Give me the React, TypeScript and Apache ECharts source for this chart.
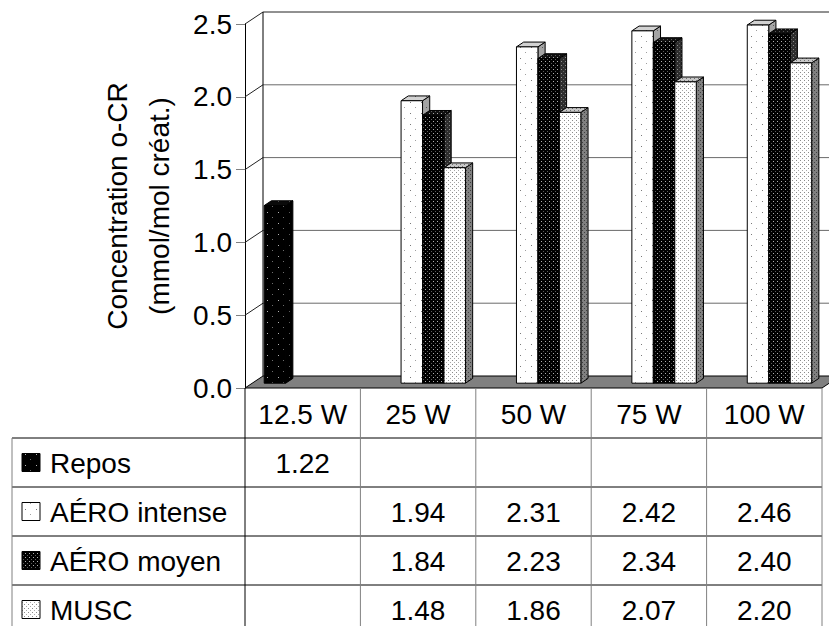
import { useEffect, useRef } from "react";
import * as echarts from "echarts";

// ---- data ----
const CATEGORIES = ["12.5 W", "25 W", "50 W", "75 W", "100 W"];
const SERIES_NAMES = ["Repos", "AÉRO intense", "AÉRO moyen", "MUSC"];
const REPOS = [1.22, null, null, null, null];
const AERO_INTENSE = [null, 1.94, 2.31, 2.42, 2.46];
const AERO_MOYEN = [null, 1.84, 2.23, 2.34, 2.4];
const MUSC = [null, 1.48, 1.86, 2.07, 2.2];
const Y_TICKS = [0, 0.5, 1.0, 1.5, 2.0, 2.5];
const AXIS_TITLE = "Concentration o-CR\n(mmol/mol créat.)";

// ---- layout & style ----
const FONT = '"Liberation Sans", Arial, Helvetica, sans-serif';
const FONT_SIZE = 28;
const GRID = { left: 245, top: 24, width: 577, height: 364 };
const DEPTH: [number, number] = [18, -12]; // offset from front plane to back wall
const BAR_FRONT = 0.4;
const BAR_BACK = 0.8;
const SLOT_START = 0.104; // fraction of category band before first bar
const SLOT_W = 0.186; // bar width as fraction of category band
const TABLE_LEFT = 12;
const HEADER_H = 50;
const ROW_H = 49;
const TABLE_ROWS_VISIBLE = 5;
const ICON_X = 22;
const ICON_SIZE = 18;
const LEGEND_TEXT_X = 50;

type Dot = [number, number, string];

function makeTile(size: number, bg: string, dots: Dot[]) {
  const c = document.createElement("canvas");
  c.width = size;
  c.height = size;
  const ctx = c.getContext("2d")!;
  ctx.fillStyle = bg;
  ctx.fillRect(0, 0, size, size);
  for (const [x, y, col] of dots) {
    ctx.fillStyle = col;
    ctx.fillRect(x, y, 1, 1);
  }
  return { image: c, repeat: "repeat", imageWidth: size, imageHeight: size } as any;
}

function makeFaces() {
  return [
    {
      front: makeTile(11, "#000000", [[3, 3, "#b4b4b4"], [8, 8, "#6e6e6e"]]),
      side: makeTile(11, "#000000", [[3, 3, "#5a5a5a"]]),
      top: makeTile(11, "#0a0a0a", [[3, 3, "#666666"]]),
    },
    {
      front: makeTile(11, "#ffffff", [[3, 3, "#7a7a7a"], [8, 8, "#a0a0a0"]]),
      side: makeTile(11, "#a4a4a4", [[3, 3, "#5a5a5a"], [8, 8, "#5a5a5a"]]),
      top: makeTile(11, "#d2d2d2", [[3, 3, "#6a6a6a"], [8, 8, "#6a6a6a"]]),
    },
    {
      front: makeTile(4, "#000000", [[1, 1, "#b0b0b0"], [3, 3, "#5a5a5a"]]),
      side: makeTile(4, "#2e2e2e", [[1, 1, "#909090"], [3, 3, "#606060"]]),
      top: makeTile(4, "#111111", [[1, 1, "#a8a8a8"], [3, 3, "#5a5a5a"]]),
    },
    {
      front: makeTile(4, "#ffffff", [[0, 0, "#8a8a8a"], [2, 2, "#a8a8a8"]]),
      side: makeTile(4, "#808080", [[0, 0, "#404040"], [2, 2, "#404040"]]),
      top: makeTile(4, "#c8c8c8", [[0, 0, "#6e6e6e"], [2, 2, "#6e6e6e"]]),
    },
  ];
}

const textStyle = {
  fontSize: FONT_SIZE,
  fontFamily: FONT,
  fill: "#000",
};

function toPoints(values: (number | null)[]) {
  const out: number[][] = [];
  values.forEach((v, i) => {
    if (v != null) out.push([i, v]);
  });
  return out;
}

export default function App() {
  const ref = useRef<HTMLDivElement>(null);

  useEffect(() => {
    if (!ref.current) return;
    const chart = echarts.init(ref.current, null, { renderer: "svg" });
    const faces = makeFaces();
    const seriesValues = [REPOS, AERO_INTENSE, AERO_MOYEN, MUSC];

    const [dx, dy] = DEPTH;

    // walls, floor and back-wall gridlines
    const frameRender = (params: any, api: any) => {
      const cs = params.coordSys;
      const L = cs.x;
      const R = cs.x + cs.width;
      const T = cs.y;
      const B = cs.y + cs.height;
      const children: any[] = [];
      children.push({
        type: "polygon",
        shape: { points: [[L, B], [R, B], [R + dx, B + dy], [L + dx, B + dy]] },
        style: { fill: "#808080", stroke: "#000", lineWidth: 1 },
      });
      Y_TICKS.forEach((t) => {
        if (t === 0) return;
        const y = api.coord([0, t])[1];
        const top = t === Y_TICKS[Y_TICKS.length - 1];
        children.push({
          type: "line",
          shape: { x1: L + dx, y1: y + dy, x2: R + dx + 40, y2: y + dy },
          style: { stroke: top ? "#222" : "#6a6a6a", lineWidth: 1 },
        });
        children.push({
          type: "line",
          shape: { x1: L, y1: y, x2: L + dx, y2: y + dy },
          style: { stroke: "#222", lineWidth: 1 },
        });
      });
      children.push({
        type: "line",
        shape: { x1: L + dx, y1: T + dy, x2: L + dx, y2: B + dy },
        style: { stroke: "#000", lineWidth: 1 },
      });
      return { type: "group", children };
    };

    // data table grid and legend column
    const tableRender = (params: any, api: any) => {
      const cs = params.coordSys;
      const L = cs.x;
      const R = cs.x + cs.width;
      const B = cs.y + cs.height;
      const bottom = B + HEADER_H + ROW_H * TABLE_ROWS_VISIBLE;
      const band = api.size([1, 0])[0];
      const children: any[] = [];
      for (let r = 0; r < SERIES_NAMES.length; r++) {
        const y = B + HEADER_H + ROW_H * r;
        children.push({
          type: "line",
          shape: { x1: TABLE_LEFT, y1: y, x2: R, y2: y },
          style: { stroke: "#000", lineWidth: 1 },
        });
        const cy = y + ROW_H / 2;
        children.push({
          type: "rect",
          shape: { x: ICON_X, y: cy - ICON_SIZE / 2, width: ICON_SIZE, height: ICON_SIZE },
          style: { fill: faces[r].front, stroke: "#000", lineWidth: 1 },
        });
        children.push({
          type: "text",
          x: LEGEND_TEXT_X,
          y: cy + 1,
          style: { ...textStyle, text: SERIES_NAMES[r], align: "left", verticalAlign: "middle" },
        });
      }
      CATEGORIES.forEach((_, k) => {
        if (k === 0) return;
        const x = api.coord([k, 0])[0] - band / 2;
        children.push({
          type: "line",
          shape: { x1: x, y1: B, x2: x, y2: bottom },
          style: { stroke: "#808080", lineWidth: 1 },
        });
      });
      children.push({
        type: "line",
        shape: { x1: R, y1: B, x2: R, y2: bottom },
        style: { stroke: "#808080", lineWidth: 1 },
      });
      children.push({
        type: "line",
        shape: { x1: TABLE_LEFT, y1: B + HEADER_H, x2: TABLE_LEFT, y2: bottom },
        style: { stroke: "#808080", lineWidth: 1 },
      });
      children.push({
        type: "line",
        shape: { x1: L, y1: B, x2: L, y2: bottom },
        style: { stroke: "#000", lineWidth: 1 },
      });
      return { type: "group", children };
    };

    // 3D column plus its value cell in the table
    const barRender = (slot: number) => (params: any, api: any) => {
      const i = api.value(0);
      const v = api.value(1);
      const [cx, yTop] = api.coord([i, v]);
      const yBot = api.coord([i, 0])[1];
      const band = api.size([1, 0])[0];
      const x0 = cx - band / 2 + band * (SLOT_START + slot * SLOT_W);
      const x1 = x0 + band * SLOT_W;
      const fx = dx * BAR_FRONT;
      const fy = dy * BAR_FRONT;
      const bx = dx * BAR_BACK;
      const by = dy * BAR_BACK;
      const f = faces[slot];
      const cs = params.coordSys;
      const rowY = cs.y + cs.height + HEADER_H + ROW_H * slot + ROW_H / 2;
      return {
        type: "group",
        children: [
          {
            type: "polygon",
            shape: {
              points: [
                [x1 + fx, yTop + fy],
                [x1 + bx, yTop + by],
                [x1 + bx, yBot + by],
                [x1 + fx, yBot + fy],
              ],
            },
            style: { fill: f.side, stroke: "#000", lineWidth: 1 },
          },
          {
            type: "polygon",
            shape: {
              points: [
                [x0 + fx, yTop + fy],
                [x1 + fx, yTop + fy],
                [x1 + bx, yTop + by],
                [x0 + bx, yTop + by],
              ],
            },
            style: { fill: f.top, stroke: "#000", lineWidth: 1 },
          },
          {
            type: "rect",
            shape: { x: x0 + fx, y: yTop + fy, width: x1 - x0, height: yBot - yTop },
            style: { fill: f.front, stroke: "#000", lineWidth: 1 },
          },
          {
            type: "text",
            x: cx,
            y: rowY + 1,
            style: { ...textStyle, text: v.toFixed(2), align: "center", verticalAlign: "middle" },
          },
        ],
      };
    };

    chart.setOption({
      animation: false,
      backgroundColor: "#ffffff",
      grid: { ...GRID, containLabel: false },
      xAxis: {
        type: "category",
        data: CATEGORIES,
        axisLine: { show: false },
        axisTick: { show: false },
        splitLine: { show: false },
        axisLabel: {
          interval: 0,
          margin: 26,
          verticalAlign: "middle",
          fontSize: FONT_SIZE,
          fontFamily: FONT,
          color: "#000",
        },
      },
      yAxis: {
        type: "value",
        min: 0,
        max: 2.5,
        interval: 0.5,
        name: AXIS_TITLE,
        nameLocation: "middle",
        nameRotate: 90,
        nameGap: 65,
        nameTextStyle: { fontSize: FONT_SIZE, fontFamily: FONT, color: "#000", lineHeight: 42 },
        axisLine: { show: true, lineStyle: { color: "#000", width: 1 } },
        axisTick: { show: true, length: 9, lineStyle: { color: "#808080" } },
        splitLine: { show: false },
        axisLabel: {
          margin: 13,
          fontSize: FONT_SIZE,
          fontFamily: FONT,
          color: "#000",
          formatter: (v: number) => v.toFixed(1),
        },
      },
      series: [
        {
          type: "custom",
          name: "frame",
          z: 1,
          silent: true,
          data: [[0, 0]],
          encode: { x: 0, y: 1 },
          renderItem: frameRender,
        },
        {
          type: "custom",
          name: "table",
          z: 1,
          silent: true,
          data: [[0, 0]],
          encode: { x: 0, y: 1 },
          renderItem: tableRender,
        },
        ...seriesValues.map((vals, slot) => ({
          type: "custom",
          name: SERIES_NAMES[slot],
          z: 2,
          silent: true,
          data: toPoints(vals),
          encode: { x: 0, y: 1 },
          renderItem: barRender(slot),
        })),
      ],
    });

    return () => chart.dispose();
  }, []);

  return (
    <div
      ref={ref}
      style={{ position: "absolute", left: 0, top: 0, width: 829, height: 626, background: "#fff" }}
    />
  );
}
